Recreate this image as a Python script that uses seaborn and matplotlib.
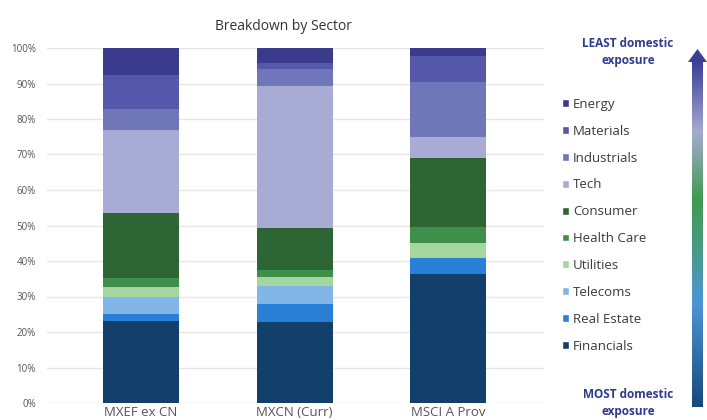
import numpy as np
import pandas as pd
import seaborn as sns
import matplotlib.pyplot as plt
from matplotlib.patches import Patch, Polygon
from matplotlib.colors import LinearSegmentedColormap

indices = ['MXEF ex CN', 'MXCN (Curr)', 'MSCI A Prov']
sectors = ['Energy', 'Materials', 'Industrials', 'Tech', 'Consumer',
           'Health Care', 'Utilities', 'Telecoms', 'Real Estate', 'Financials']
colors = ['#3b3b8e', '#5457aa', '#6f77b8', '#a8abd4', '#2e6535',
          '#3d8f4a', '#a6d6a0', '#82b6e6', '#2a7fd6', '#13406b']

# sector weights in %, same order as sectors
mxef_ex_cn = [7.7, 9.6, 5.8, 23.3, 18.5, 2.5, 2.7, 4.8, 2.0, 23.1]
mxcn_curr = [4.3, 1.5, 4.8, 40.1, 11.9, 2.0, 2.4, 5.1, 5.1, 22.8]
msci_a_prov = [2.3, 7.2, 15.5, 6.0, 19.3, 4.5, 4.4, 0.0, 4.5, 36.3]

rows = []
for name, vals in zip(indices, [mxef_ex_cn, mxcn_curr, msci_a_prov]):
    for sec, v in zip(sectors, vals):
        rows.append({'index': name, 'sector': sec, 'share': v})
df = pd.DataFrame(rows)

sns.set_style('white')
plt.rcParams['font.family'] = ['Open Sans', 'DejaVu Sans']

fig = plt.figure(figsize=(7.07, 4.2), dpi=100)
ax = fig.add_axes([47 / 707, 1 - 403 / 420, 497 / 707, 355 / 420])

sns.histplot(
    df, x='index', hue='sector', weights='share',
    multiple='stack', discrete=True, shrink=0.495,
    hue_order=sectors, palette=dict(zip(sectors, colors)),
    alpha=1, linewidth=0, legend=False, ax=ax,
)

ax.set_xlim(-0.612, 2.625)
ax.set_ylim(0, 100)
ax.set_yticks(range(0, 101, 10))
ax.set_yticklabels([f'{t}%' for t in range(0, 101, 10)], fontsize=7, color='#555555')
ax.set_xticks(range(3))
ax.set_xticklabels(indices, fontsize=9.5, color='#555555')
ax.tick_params(axis='y', length=0, pad=8)
ax.tick_params(axis='x', length=0, pad=2)
ax.set_xlabel('')
ax.set_ylabel('')
ax.grid(axis='y', color='#e6e6e6', linewidth=1)
ax.grid(axis='x', visible=False)
ax.set_axisbelow(True)
sns.despine(ax=ax, left=True, bottom=True)

fig.text(283 / 707, 1 - 27 / 420, 'Breakdown by Sector', ha='center', va='center',
         fontsize=10, color='#333333')

handles = [Patch(facecolor=c, label=s) for s, c in zip(sectors, colors)]
fig.legend(handles=handles, loc='upper left', bbox_to_anchor=(550 / 707, 1 - 86 / 420),
           frameon=False, fontsize=9.5, handlelength=0.55, handleheight=0.55,
           handletextpad=0.3, labelspacing=1.05, labelcolor='#3a3a3a')

navy = '#2f3b8f'
fig.text(628 / 707, 1 - 52 / 420, 'LEAST domestic\nexposure', ha='center', va='center',
         fontsize=8.5, fontweight='bold', color=navy, linespacing=1.45)
fig.text(628 / 707, 1 - 403 / 420, 'MOST domestic\nexposure', ha='center', va='center',
         fontsize=8.5, fontweight='bold', color=navy, linespacing=1.45)

# gradient arrow on the right
cmap = LinearSegmentedColormap.from_list('exposure', [
    (0.0, '#174a7c'), (0.3, '#4d95d6'), (0.45, '#4a9a8a'),
    (0.6, '#3f9a4f'), (0.8, '#a6aad0'), (1.0, '#3c3f98')])
gax = fig.add_axes([692 / 707, 1 - 407 / 420, 11 / 707, 345 / 420])
gax.imshow(np.linspace(0, 1, 256).reshape(-1, 1), cmap=cmap, aspect='auto', origin='lower')
gax.axis('off')
fig.patches.append(Polygon(
    [(688 / 707, 1 - 62 / 420), (707 / 707, 1 - 62 / 420), (697.5 / 707, 1 - 49 / 420)],
    closed=True, facecolor='#3c3f98', edgecolor='none', transform=fig.transFigure))

fig.savefig('out.png', dpi=100)
